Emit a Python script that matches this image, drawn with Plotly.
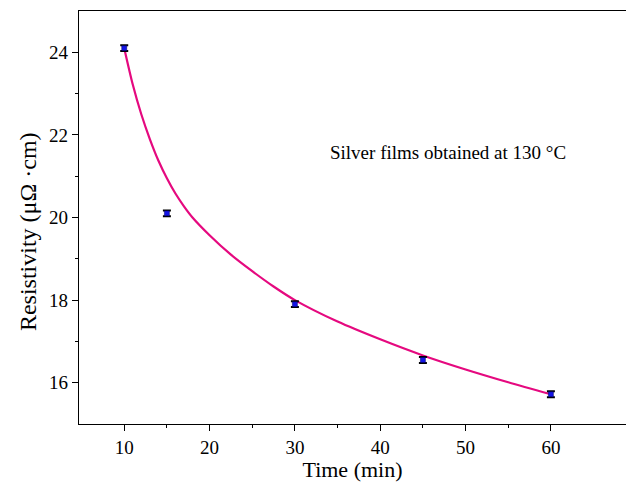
import plotly.graph_objects as go

# Measured resistivity of silver films vs. sintering time
time_min = [10, 15, 30, 45, 60]
resistivity = [24.10, 20.10, 17.90, 16.55, 15.72]
resistivity_err = [0.07, 0.07, 0.07, 0.07, 0.07]

# Fitted trend line, sampled along the time axis
fit_time = [10, 11, 12, 13, 14, 15, 16, 17, 18, 20, 22.5, 25, 27.5, 30,
            35, 40, 45, 50, 55, 60]
fit_resistivity = [24.10, 23.22, 22.50, 21.90, 21.38, 20.95, 20.58, 20.27, 20.00,
                   19.57, 19.10, 18.70, 18.33, 18.00, 17.48, 17.05, 16.66,
                   16.32, 16.01, 15.72]

x_major = [10, 20, 30, 40, 50, 60]
x_minor = [15, 25, 35, 45, 55]
y_major = [16, 18, 20, 22, 24]
y_minor = [17, 19, 21, 23]

FONT = "Liberation Serif"

fig = go.Figure()

fig.add_trace(go.Scatter(
    x=fit_time, y=fit_resistivity, mode="lines",
    line=dict(color="#E5097F", width=2.2, shape="spline", smoothing=0.8),
    hoverinfo="skip", showlegend=False,
))

fig.add_trace(go.Scatter(
    x=time_min, y=resistivity, mode="markers",
    marker=dict(symbol="square", size=5, color="#1414E6",
                line=dict(color="#000060", width=0.5)),
    error_y=dict(type="data", array=resistivity_err, visible=True,
                 color="black", thickness=2, width=4),
    showlegend=False,
))

fig.add_annotation(
    x=47.9, y=21.58, xref="x", yref="y",
    text="Silver films obtained at 130 °C", showarrow=False,
    font=dict(family=FONT, size=19, color="black"),
)

# Vertical axis title, placed beside the tick labels
fig.add_annotation(
    x=-0.093, y=0.465, xref="paper", yref="paper",
    xanchor="center", yanchor="middle", textangle=-90,
    text="Resistivity (μΩ ·cm)", showarrow=False,
    font=dict(family=FONT, size=24, color="black"),
)

axis_common = dict(
    showline=True, linecolor="black", linewidth=1.3,
    ticks="outside", ticklen=6, tickwidth=1.3, tickcolor="black",
    showgrid=False, zeroline=False,
    tickfont=dict(family=FONT, size=19, color="black"),
)

fig.update_xaxes(
    range=[4.7, 68.8], tickmode="array", tickvals=x_major,
    minor=dict(tickmode="array", tickvals=x_minor, ticks="outside", ticklen=3,
               tickwidth=1.3, tickcolor="black"),
    mirror=True,
    title=dict(text="Time (min)", font=dict(family=FONT, size=22, color="black"), standoff=10),
    **axis_common,
)
fig.update_yaxes(
    range=[15, 25], tickmode="array", tickvals=y_major,
    minor=dict(tickmode="array", tickvals=y_minor, ticks="outside", ticklen=3,
               tickwidth=1.3, tickcolor="black"),
    mirror=False,
    **axis_common,
)

fig.update_layout(
    width=626, height=482,
    margin=dict(l=79, r=0, t=11, b=58),
    plot_bgcolor="white", paper_bgcolor="white",
)

fig.write_html("out.html")
